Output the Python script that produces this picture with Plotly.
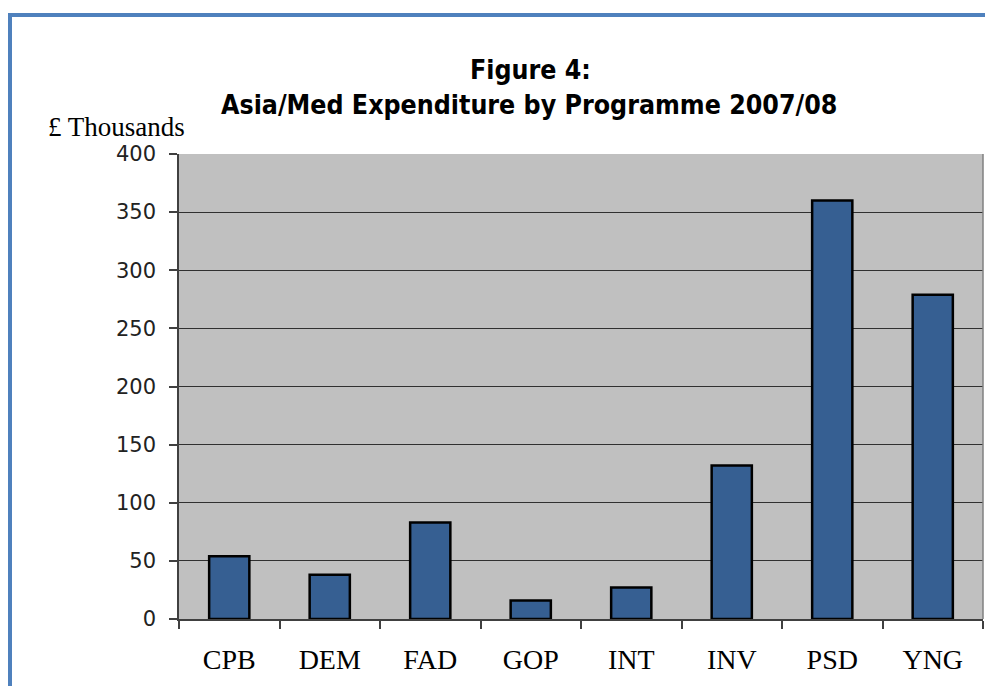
import plotly.graph_objects as go

categories = ["CPB", "DEM", "FAD", "GOP", "INT", "INV", "PSD", "YNG"]
values = [54, 38, 83, 16, 27, 132, 360, 279]
y_ticks = [0, 50, 100, 150, 200, 250, 300, 350, 400]

# page has an 8px body margin; work in screen coordinates and convert
OFF = 8
W, H = 993 - OFF, 686 - OFF
L, R, T, B = 179 - OFF, 10, 154 - OFF, 67
pw, ph = W - L - R, H - T - B

def px_x(x):
    return (x - OFF - L) / pw

def px_y(y):
    return (H - B - (y - OFF)) / ph

fig = go.Figure()
fig.add_trace(go.Bar(
    x=categories, y=values,
    marker=dict(color="#365F92", line=dict(color="#000000", width=2.5)),
    width=0.4,
))

fig.update_layout(
    width=W, height=H,
    margin=dict(l=L, r=R, t=T, b=B),
    paper_bgcolor="white",
    plot_bgcolor="#C0C0C0",
    showlegend=False,
    font=dict(family="DejaVu Sans", color="#000000"),
)

fig.update_xaxes(
    type="category",
    tickson="boundaries",
    ticks="outside", ticklen=8, tickcolor="#404040", tickwidth=1.5,
    tickfont=dict(family="Liberation Serif", size=28, color="#000000"),
    ticklabelstandoff=15,
    showline=True, linecolor="#404040", linewidth=1.5,
    showgrid=False,
    mirror=False,
)
fig.update_yaxes(
    range=[0, 400],
    tickvals=y_ticks,
    ticks="outside", ticklen=8, tickcolor="#404040", tickwidth=1.5,
    tickfont=dict(family="DejaVu Sans", size=21, color="#222222"),
    ticklabelstandoff=9,
    showline=True, linecolor="#404040", linewidth=1.5,
    showgrid=True, gridcolor="#303030", gridwidth=1,
    zeroline=False,
)

# right border of plot area
fig.add_shape(type="line", xref="paper", yref="paper", x0=1, x1=1, y0=0, y1=1,
              line=dict(color="#808080", width=1.5))

# blue frame (left and top)
fig.add_shape(type="line", xref="paper", yref="paper",
              x0=px_x(10), x1=px_x(10), y0=px_y(13), y1=px_y(700),
              line=dict(color="#4F81BD", width=4))
fig.add_shape(type="line", xref="paper", yref="paper",
              x0=px_x(8), x1=px_x(1000), y0=px_y(15), y1=px_y(15),
              line=dict(color="#4F81BD", width=4))

fig.add_annotation(xref="paper", yref="paper", x=px_x(530), y=px_y(70),
                   text="<b>Figure 4:</b>", showarrow=False,
                   font=dict(family="DejaVu Sans Condensed", size=26.5, color="#000000"),
                   xanchor="center", yanchor="middle")
fig.add_annotation(xref="paper", yref="paper", x=px_x(529), y=px_y(104),
                   text="<b>Asia/Med Expenditure by Programme 2007/08</b>", showarrow=False,
                   font=dict(family="DejaVu Sans Condensed", size=26.5, color="#000000"),
                   xanchor="center", yanchor="middle")
fig.add_annotation(xref="paper", yref="paper", x=px_x(46), y=px_y(127),
                   text="£ Thousands", showarrow=False,
                   font=dict(family="Liberation Serif", size=27, color="#000000"),
                   xanchor="left", yanchor="middle")

fig.write_html("out.html")
